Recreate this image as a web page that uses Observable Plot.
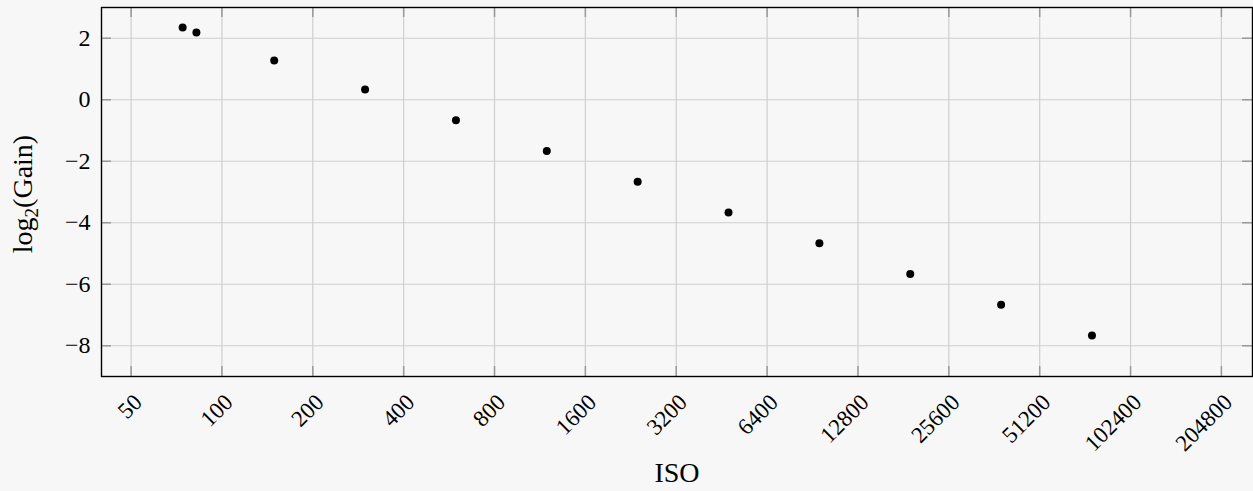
<!DOCTYPE html>
<html>
<head>
<meta charset="utf-8">
<script src="https://cdn.jsdelivr.net/npm/d3@7"></script>
<script src="https://cdn.jsdelivr.net/npm/@observablehq/plot@0.6"></script>
<style>
  html, body { margin: 0; padding: 0; background: #f7f7f7; }
  #chart svg { display: block; }
</style>
</head>
<body>
<div id="chart"></div>
<script>
// Data
const iso = [74.1, 82.3, 149, 298, 596, 1192, 2384, 4768, 9536, 19072, 38144, 76288];
const gain = [2.35, 2.19, 1.28, 0.33, -0.67, -1.67, -2.67, -3.67, -4.67, -5.67, -6.67, -7.67];
const isoTicks = [50, 100, 200, 400, 800, 1600, 3200, 6400, 12800, 25600, 51200, 102400, 204800];
const yTicks = [-8, -6, -4, -2, 0, 2];

const data = iso.map((v, i) => ({iso: v, gain: gain[i]}));

const W = 1253, H = 491;
const mL = 101, mR = 1, mT = 7, mB = 115;
const plotW = W - mL - mR, plotH = H - mT - mB;
const tickLen = 10;
const font = "Liberation Serif";

const chart = Plot.plot({
  width: W,
  height: H,
  marginLeft: mL,
  marginRight: mR,
  marginTop: mT,
  marginBottom: mB,
  style: {background: "#f7f7f7", fontFamily: font, color: "black"},
  x: {type: "log", base: 2, domain: [39.9, 259600], axis: null},
  y: {domain: [-9, 3], axis: null},
  marks: [
    Plot.gridX(isoTicks, {stroke: "#cfcfcf", strokeOpacity: 1, strokeWidth: 1.2}),
    Plot.gridY(yTicks, {stroke: "#cfcfcf", strokeOpacity: 1, strokeWidth: 1.2}),
    // inward ticks on all four sides
    Plot.ruleX(isoTicks, {x: d => d, insetBottom: plotH - tickLen, stroke: "#999", strokeWidth: 1.5}),
    Plot.ruleX(isoTicks, {x: d => d, insetTop: plotH - tickLen, stroke: "#999", strokeWidth: 1.5}),
    Plot.ruleY(yTicks, {y: d => d, insetRight: plotW - tickLen, stroke: "#999", strokeWidth: 1.5}),
    Plot.ruleY(yTicks, {y: d => d, insetLeft: plotW - tickLen, stroke: "#999", strokeWidth: 1.5}),
    Plot.frame({stroke: "black", strokeWidth: 1.4}),
    Plot.dot(data, {x: "iso", y: "gain", r: 4, fill: "black", stroke: "none"}),
    // tick labels
    Plot.text(isoTicks, {
      x: d => d, frameAnchor: "bottom", text: d => String(d),
      rotate: -45, textAnchor: "end", lineAnchor: "middle",
      dx: 7, dy: 22, fontSize: 23, fontFamily: font, fill: "black"
    }),
    Plot.text(yTicks, {
      y: d => d, frameAnchor: "left", text: d => d < 0 ? "\u2212" + Math.abs(d) : String(d),
      textAnchor: "end", lineAnchor: "middle", dx: -11, fontSize: 24, fontFamily: font, fill: "black"
    }),
    Plot.text(["ISO"], {frameAnchor: "bottom", text: d => d, lineAnchor: "middle", dy: 97, fontSize: 28, fontFamily: font, fill: "black"})
  ]
});

// y-axis label with a real subscript
const svg = d3.select(chart);
const lab = svg.append("text")
  .attr("transform", "translate(32,194) rotate(-90)")
  .attr("text-anchor", "middle")
  .attr("font-family", font)
  .attr("font-size", 28)
  .attr("fill", "black");
lab.append("tspan").text("log");
lab.append("tspan").attr("font-size", 19).attr("dy", 6).text("2");
lab.append("tspan").attr("dy", -6).text("(Gain)");

document.getElementById("chart").appendChild(chart);
</script>
</body>
</html>
